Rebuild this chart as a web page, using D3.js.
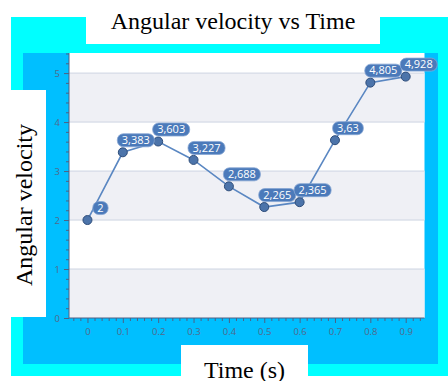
<!DOCTYPE html>
<html>
<head>
<meta charset="utf-8">
<script src="https://cdn.jsdelivr.net/npm/d3@7"></script>
<style>
  html, body { margin: 0; padding: 0; background: #ffffff; }
  svg { display: block; }
</style>
</head>
<body>
<svg id="chart" width="448" height="381"></svg>
<script>
// Angular velocity samples over time
const times = [0, 0.1, 0.2, 0.3, 0.4, 0.5, 0.6, 0.7, 0.8, 0.9];
const velocities = [2, 3.383, 3.603, 3.227, 2.688, 2.265, 2.365, 3.63, 4.805, 4.928];
const xTickValues = [0, 0.1, 0.2, 0.3, 0.4, 0.5, 0.6, 0.7, 0.8, 0.9];
const yTickValues = [0, 1, 2, 3, 4, 5];
const chartTitle = "Angular velocity vs Time";
const xTitle = "Time (s)";
const yTitle = "Angular velocity";

const svg = d3.select("#chart");

// Outer frames
svg.append("rect").attr("x", 11).attr("y", 17).attr("width", 437).attr("height", 359).attr("fill", "#00ffff");
svg.append("rect").attr("x", 23).attr("y", 53).attr("width", 415).attr("height", 311).attr("fill", "#00bfff");

const plot = { left: 69, right: 424.5, top: 53, bottom: 318 };

const x = d3.scaleLinear().domain([-0.0522, 0.9532]).range([plot.left, plot.right]);
const y = d3.scaleLinear().domain([0, 5.41]).range([plot.bottom, plot.top]);

// Plot background with alternating bands
svg.append("rect")
  .attr("x", plot.left).attr("y", plot.top)
  .attr("width", plot.right - plot.left).attr("height", plot.bottom - plot.top)
  .attr("fill", "#ffffff");

const bandEdges = [0, 1, 2, 3, 4, 5, 5.41];
svg.append("g").selectAll("rect")
  .data(d3.range(bandEdges.length - 1).filter(i => i % 2 === 0))
  .join("rect")
  .attr("x", plot.left)
  .attr("width", plot.right - plot.left)
  .attr("y", i => y(bandEdges[i + 1]))
  .attr("height", i => y(bandEdges[i]) - y(bandEdges[i + 1]))
  .attr("fill", "#eff0f5");

// Horizontal gridlines
svg.append("g").selectAll("line")
  .data(yTickValues.filter(v => v > 0))
  .join("line")
  .attr("x1", plot.left).attr("x2", plot.right)
  .attr("y1", d => y(d)).attr("y2", d => y(d))
  .attr("stroke", "#cdd4e2").attr("stroke-width", 1);

const axisColor = "#4d6185";
const labelColor = "#52698c";

// Y axis: minor ticks then major ticks with labels
const yMinor = d3.range(0, 5.41, 0.2).filter(v => Math.abs(v - Math.round(v)) > 1e-6);
svg.append("g")
  .attr("transform", `translate(${plot.left},0)`)
  .call(d3.axisLeft(y).tickValues(yMinor).tickSize(3).tickFormat(""))
  .call(g => g.select(".domain").remove())
  .call(g => g.selectAll("line").attr("stroke", axisColor));

const yAxis = svg.append("g")
  .attr("transform", `translate(${plot.left},0)`)
  .call(d3.axisLeft(y).tickValues(yTickValues).tickSize(5).tickPadding(4).tickFormat(d3.format("d")));
yAxis.select(".domain").attr("stroke", axisColor).attr("d", `M0,${plot.top}V${plot.bottom}`);
yAxis.selectAll("line").attr("stroke", axisColor);
yAxis.selectAll("text").attr("fill", labelColor)
  .style("font-family", "'Open Sans', sans-serif").style("font-size", "9.5px");

// X axis: minor ticks then major ticks with labels
const xMinor = d3.range(-0.04, 0.955, 0.02).filter(v => Math.abs(v * 10 - Math.round(v * 10)) > 1e-6);
svg.append("g")
  .attr("transform", `translate(0,${plot.bottom})`)
  .call(d3.axisBottom(x).tickValues(xMinor).tickSize(3).tickFormat(""))
  .call(g => g.select(".domain").remove())
  .call(g => g.selectAll("line").attr("stroke", axisColor));

const xAxis = svg.append("g")
  .attr("transform", `translate(0,${plot.bottom})`)
  .call(d3.axisBottom(x).tickValues(xTickValues).tickSize(5).tickPadding(5).tickFormat(d => d === 0 ? "0" : d3.format(".1f")(d)));
xAxis.select(".domain").attr("stroke", axisColor).attr("d", `M${plot.left},0H${plot.right}`);
xAxis.selectAll("line").attr("stroke", axisColor);
xAxis.selectAll("text").attr("fill", labelColor)
  .style("font-family", "'Open Sans', sans-serif").style("font-size", "9.5px");

// Data line and markers
const points = times.map((t, i) => ({ t, v: velocities[i] }));

svg.append("path")
  .datum(points)
  .attr("fill", "none")
  .attr("stroke", "#5a87c2")
  .attr("stroke-width", 1.6)
  .attr("d", d3.line().x(d => x(d.t)).y(d => y(d.v)));

svg.append("g").selectAll("circle")
  .data(points)
  .join("circle")
  .attr("cx", d => x(d.t)).attr("cy", d => y(d.v))
  .attr("r", 4.5)
  .attr("fill", "#4c74aa")
  .attr("stroke", "#2e4d7a")
  .attr("stroke-width", 1);

// Value labels in rounded boxes
const labels = svg.append("g").selectAll("g")
  .data(points)
  .join("g")
  .attr("transform", d => `translate(${x(d.t) + 13},${y(d.v) - 12})`);

labels.append("text")
  .attr("text-anchor", "middle")
  .attr("dy", "0.35em")
  .attr("fill", "#ffffff")
  .style("font-family", "'Open Sans', sans-serif")
  .style("font-size", "11px")
  .text(d => String(d.v).replace(".", ","));

labels.each(function () {
  const g = d3.select(this);
  const w = g.select("text").node().getComputedTextLength() + 9;
  g.insert("rect", "text")
    .attr("x", -w / 2).attr("y", -6.5)
    .attr("width", w).attr("height", 13)
    .attr("rx", 6).attr("ry", 6)
    .attr("fill", "#4b7aba")
    .attr("stroke", "#86a6d3")
    .attr("stroke-width", 0.8);
});

// Titles on white panels
const serif = "'Liberation Serif', 'Times New Roman', serif";

svg.append("rect").attr("x", 86).attr("y", 0).attr("width", 294).attr("height", 44).attr("fill", "#ffffff");
svg.append("text")
  .attr("x", 233).attr("y", 29)
  .attr("text-anchor", "middle")
  .attr("fill", "#000000")
  .style("font-family", serif)
  .style("font-size", "24px")
  .text(chartTitle);

svg.append("rect").attr("x", 0).attr("y", 90).attr("width", 46).attr("height", 227).attr("fill", "#ffffff");
svg.append("text")
  .attr("transform", "translate(32,205) rotate(-90)")
  .attr("text-anchor", "middle")
  .attr("fill", "#000000")
  .style("font-family", serif)
  .style("font-size", "24px")
  .text(yTitle);

svg.append("rect").attr("x", 181).attr("y", 345).attr("width", 127).attr("height", 36).attr("fill", "#ffffff");
svg.append("text")
  .attr("x", 244.5).attr("y", 378)
  .attr("text-anchor", "middle")
  .attr("fill", "#000000")
  .style("font-family", serif)
  .style("font-size", "24px")
  .text(xTitle);
</script>
</body>
</html>
